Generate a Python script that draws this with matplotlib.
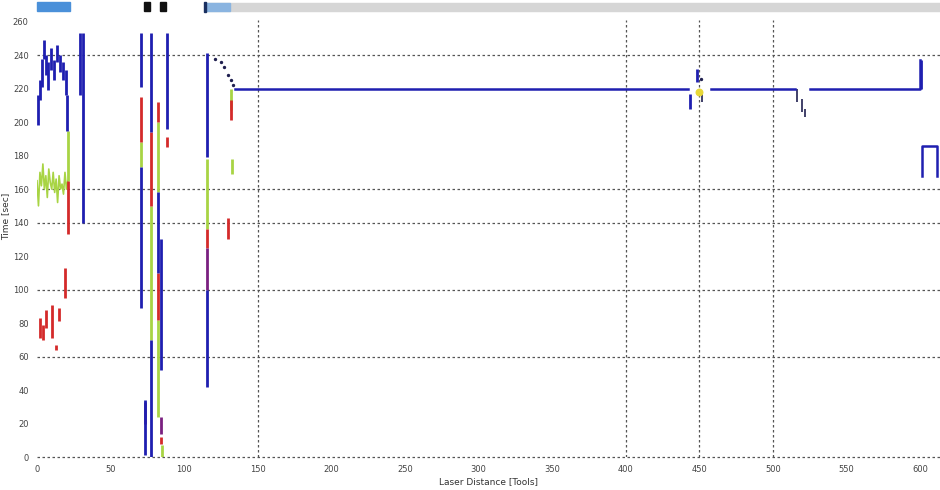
import numpy as np
import matplotlib.pyplot as plt
from matplotlib.patches import Rectangle

# main trace level and the flat run along the top
main_x = [134.5, 442, np.nan, 458, 515, np.nan, 525, 600, 600]
main_y = [220, 220, np.nan, 220, 220, np.nan, 220, 220, 237]
tail_x = [601.5, 601.5, 611.5, 611.5]
tail_y = [168, 186, 186, 168]

# vertical segments per channel: position, low, high
blue_x = [0.7, 2.0, 3.4, 4.8, 6.1, 7.5, 9.5, 11.5, 13.6, 15.6, 17.7, 19.7, 20.4, 29.2, 31.2,
          70.6, 70.6, 73.6, 77.4, 77.4, 82.2, 84.5, 88.3, 115.8, 115.8,
          443.6, 448.3, 600.5]
blue_lo = [198, 213, 221, 238, 228, 219, 231, 225, 236, 230, 225, 216, 195, 216, 140,
           221, 89, 1, 194, 0, 110, 52, 196, 179, 42,
           208, 224, 220]
blue_hi = [216, 225, 238, 249, 240, 236, 244, 237, 246, 240, 236, 231, 216, 253, 253,
           253, 173, 34, 253, 70, 158, 130, 253, 241, 100,
           217, 232, 237]

red_x = [21.1, 2.0, 4.1, 6.1, 10.2, 12.9, 14.9, 19.0,
         70.6, 77.4, 82.2, 82.2, 84.5, 88.3, 115.8, 131.7, 130.0]
red_lo = [133, 71, 70, 77, 71, 64, 81, 95,
          188, 150, 200, 82, 8, 185, 125, 201, 130]
red_hi = [165, 83, 79, 88, 91, 67, 89, 113,
          215, 194, 212, 110, 12, 191, 136, 213, 143]

green_x = [21.0, 70.6, 77.4, 82.2, 82.2, 115.8, 131.7, 132.5, 84.8]
green_lo = [165, 173, 70, 158, 24, 136, 207, 169, 0]
green_hi = [195, 188, 150, 200, 82, 178, 220, 178, 7]

purple_x = [73.4, 84.5, 115.8]
purple_lo = [20, 14, 100]
purple_hi = [33, 24, 125]

# short dark glitches on the flat run
glitch_x = [451.5, 516.5, 519.5, 521.5]
glitch_lo = [212, 212, 206, 203]
glitch_hi = [218, 220, 214, 208]

# noisy low channel on the left
noise_x = [0, 1, 2, 3, 4, 5, 6, 7, 8, 9, 10, 11, 12, 13, 14, 15, 16, 17, 18, 19, 20, 21]
noise_y = [165, 150, 170, 162, 175, 160, 168, 155, 172, 164, 160, 170, 158, 166, 152, 168,
           160, 163, 157, 170, 160, 165]

# scattered samples where the trace settles
dot_x = [121, 125, 127, 130, 132, 133, 451]
dot_y = [238, 236, 233, 228, 225, 222, 226]

y_ticks = list(range(0, 261, 20))
x_ticks = list(range(0, 601, 50))
h_grid = [240, 160, 140, 100, 60, 0]
v_grid = [150, 400, 450, 500]

BLUE = "#1f1fb0"
RED = "#d42a2a"
GREEN = "#a8d444"
PURPLE = "#7a2080"

fig = plt.figure(figsize=(9.4, 4.9), dpi=100)
ax = fig.add_axes([37 / 940, 33 / 490, 903 / 940, 437 / 490])

for y in h_grid:
    ax.axhline(y, color="#555555", lw=0.9, ls=(0, (2, 2)), zorder=1, clip_on=False)
for x in v_grid:
    ax.axvline(x, color="#555555", lw=0.9, ls=(0, (2, 2)), zorder=1)

ax.plot(noise_x, noise_y, color=GREEN, lw=1.2, zorder=2)
ax.vlines(green_x, green_lo, green_hi, color=GREEN, lw=2, zorder=3)
ax.vlines(red_x, red_lo, red_hi, color=RED, lw=2, zorder=3)
ax.vlines(purple_x, purple_lo, purple_hi, color=PURPLE, lw=2, zorder=3)
ax.vlines(blue_x, blue_lo, blue_hi, color=BLUE, lw=2, zorder=4)
ax.vlines(glitch_x, glitch_lo, glitch_hi, color="#202050", lw=1.2, zorder=4)
ax.plot(main_x, main_y, color=BLUE, lw=1.8, zorder=4)
ax.plot(tail_x, tail_y, color=BLUE, lw=1.8, zorder=4)
ax.scatter(dot_x, dot_y, s=2, color="#202050", zorder=5)
ax.scatter([450], [218], s=22, color="#e8d838", zorder=5)

ax.set_xlim(0, 613.5)
ax.set_ylim(0, 261)
ax.set_xticks(x_ticks)
ax.set_yticks(y_ticks)
ax.tick_params(length=0, labelsize=6, labelcolor="#444444", pad=6)
for s in ax.spines.values():
    s.set_visible(False)
ax.set_xlabel("Laser Distance [Tools]", fontsize=6.5, color="#333333", labelpad=2)
ax.set_ylabel("Time [sec]", fontsize=6.5, color="#333333")
ax.yaxis.set_label_coords(-0.03, 0.55)

# toolbar strip along the top
fig.patches.append(Rectangle((37 / 940, 479 / 490), 33 / 940, 9 / 490,
                             transform=fig.transFigure, color="#4a90d9"))
for left in (144, 160):
    fig.patches.append(Rectangle((left / 940, 479 / 490), 6 / 940, 9 / 490,
                                 transform=fig.transFigure, color="#111111"))
fig.patches.append(Rectangle((205 / 940, 479 / 490), 735 / 940, 8 / 490,
                             transform=fig.transFigure, color="#d6d6d6"))
fig.patches.append(Rectangle((205 / 940, 479 / 490), 25 / 940, 8 / 490,
                             transform=fig.transFigure, color="#8ab4e0"))
fig.patches.append(Rectangle((204 / 940, 478 / 490), 2 / 940, 10 / 490,
                             transform=fig.transFigure, color="#1a3060"))

fig.savefig("out.png", dpi=100)
